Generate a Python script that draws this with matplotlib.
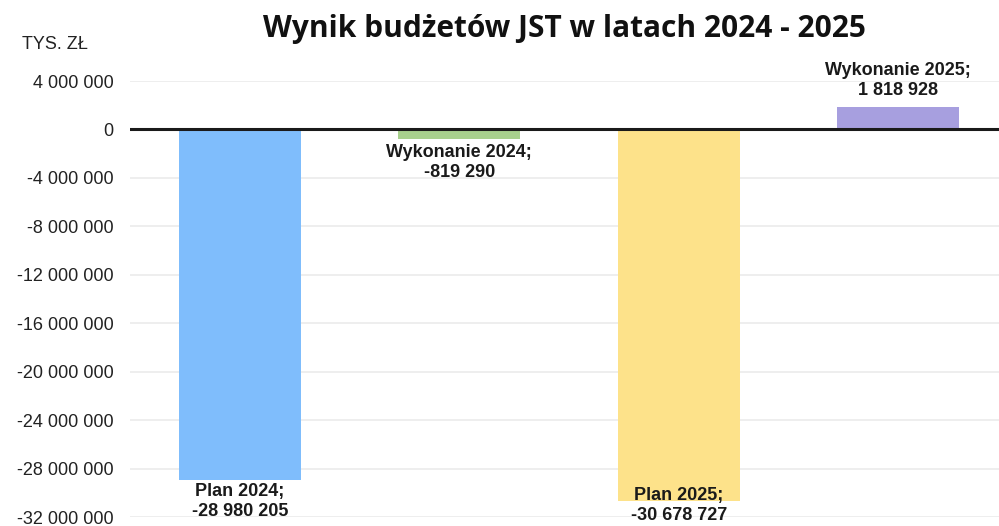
import matplotlib.pyplot as plt
from matplotlib.ticker import FuncFormatter

categories = ['Plan 2024', 'Wykonanie 2024', 'Plan 2025', 'Wykonanie 2025']
values = [-28980205, -819290, -30678727, 1818928]
colors = ['#7FBDFC', '#A8D08D', '#FDE28A', '#A79FDF']
yticks = [4000000, 0, -4000000, -8000000, -12000000, -16000000,
          -20000000, -24000000, -28000000, -32000000]


def fmt(v):
    s = f'{abs(int(v)):,}'.replace(',', ' ')
    return ('-' if v < 0 else '') + s


plt.rcParams['font.family'] = ['Liberation Sans', 'DejaVu Sans']

fig = plt.figure(figsize=(9.99, 5.26), dpi=100)
ax = fig.add_axes([130 / 999, 9 / 526, 869 / 999, 436 / 526])

x = range(len(categories))
ax.bar(x, values, width=0.556, color=colors, zorder=2)
ax.set_xlim(-0.5, 3.459)
ax.set_ylim(-32000000, 4000000)
ax.set_yticks(yticks)
ax.yaxis.set_major_formatter(FuncFormatter(lambda v, p: fmt(v)))
ax.tick_params(axis='y', length=0, labelsize=13, colors='#222222', pad=12)
ax.set_xticks([])
ax.grid(axis='y', color='#ebebeb', linewidth=1.2, zorder=0)
for s in ax.spines.values():
    s.set_visible(False)
ax.axhline(0, color='#1a1a1a', linewidth=2.2, zorder=3)

# etykiety danych
offsets = [(-2, 'top'), (-3, 'top'), (10, 'top'), (6, 'bottom')]
for i, (cat, v) in enumerate(zip(categories, values)):
    dy, va = offsets[i]
    ax.annotate(f'{cat};\n{fmt(v)}', xy=(i, v), xytext=(0, dy),
                textcoords='offset points', ha='center', va=va,
                fontsize=13, fontweight='bold', color='#1a1a1a',
                linespacing=1.25, annotation_clip=False, zorder=4)

fig.text(0.565, 0.945, 'Wynik budżetów JST w latach 2024 - 2025',
         ha='center', va='center', fontsize=21.5, fontweight='bold',
         family=['Open Sans', 'DejaVu Sans'], color='#111111')
fig.text(22 / 999, 0.915, 'TYS. ZŁ', ha='left', va='center',
         fontsize=13, color='#222222')

fig.savefig('out.png', dpi=100)
